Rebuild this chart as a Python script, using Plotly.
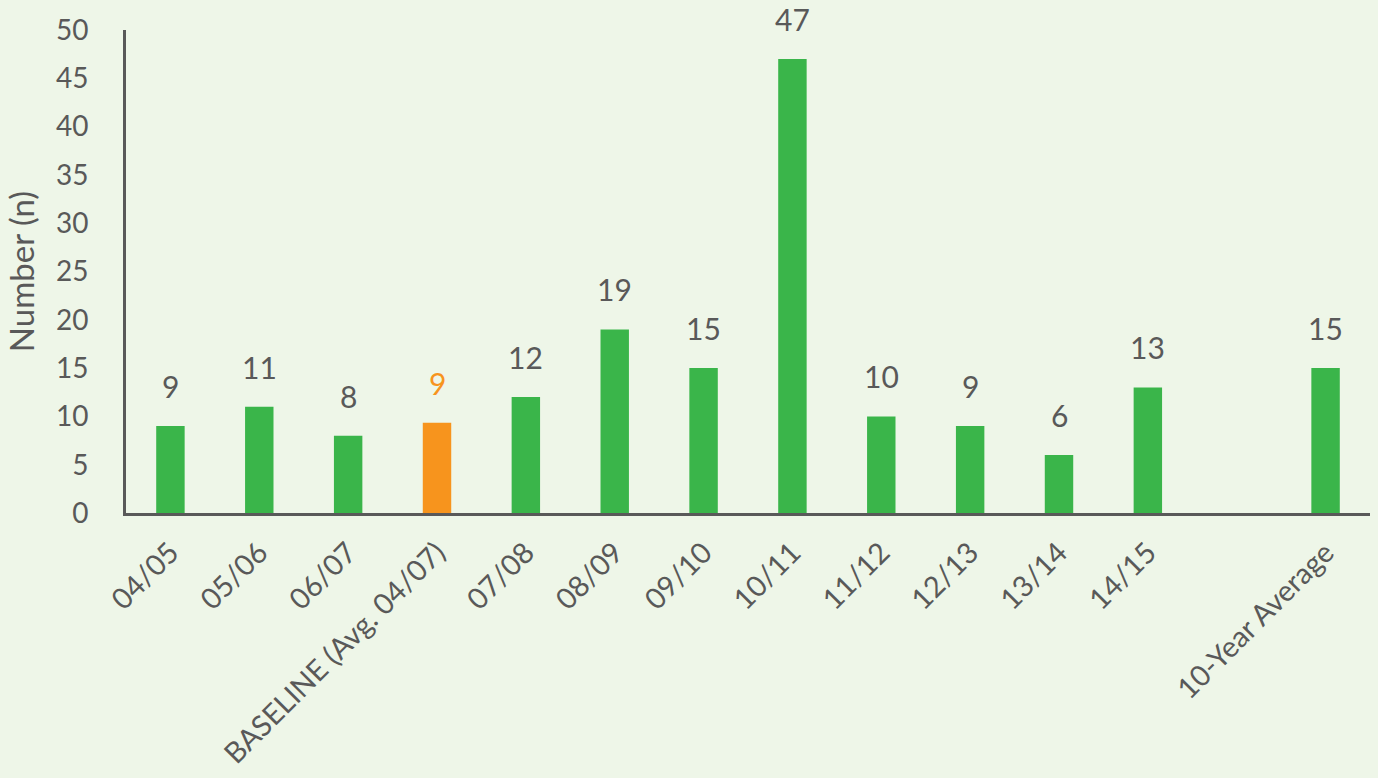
import plotly.graph_objects as go

categories = ["04/05", "05/06", "06/07", "BASELINE (Avg. 04/07)", "07/08", "08/09", "09/10",
              "10/11", "11/12", "12/13", "13/14", "14/15", " ", "10-Year Average"]
values = [9, 11, 8, 9.33, 12, 19, 15, 47, 10, 9, 6, 13, None, 15]
labels = ["9", "11", "8", "9", "12", "19", "15", "47", "10", "9", "6", "13", "", "15"]

GREEN = "#3AB54A"
ORANGE = "#F7941D"
GRAY = "#595959"
colors = [ORANGE if c.startswith("BASELINE") else GREEN for c in categories]
text_colors = [ORANGE if c.startswith("BASELINE") else GRAY for c in categories]

FONT = "Lato"

fig = go.Figure(go.Bar(
    x=categories, y=values,
    marker=dict(color=colors, line=dict(width=0)),
    hoverinfo="x+y",
))

for c, v, t, tc in zip(categories, values, labels, text_colors):
    if v is None or not t:
        continue
    fig.add_annotation(x=c, y=v, text=t, showarrow=False, yanchor="bottom",
                       yshift=20, font=dict(family=FONT, size=30, color=tc))

fig.update_layout(
    width=1378, height=778,
    paper_bgcolor="#EEF6E8", plot_bgcolor="#EEF6E8",
    margin=dict(l=126, r=8, t=30, b=261),
    bargap=0.68,
    showlegend=False,
    font=dict(family=FONT, color=GRAY),
    xaxis=dict(
        type="category", categoryorder="array", categoryarray=categories,
        tickangle=-45, tickfont=dict(family=FONT, size=29, color=GRAY),
        showline=True, linecolor=GRAY, linewidth=3, ticks="", showgrid=False,
        ticklabelstandoff=8,
    ),
    yaxis=dict(
        range=[0, 50], dtick=5, tickfont=dict(family=FONT, size=28, color=GRAY),
        showline=True, linecolor=GRAY, linewidth=3, ticks="", showgrid=False,
        zeroline=False, ticklabelstandoff=29,
        title=dict(text="Number (n)", font=dict(family=FONT, size=33, color=GRAY), standoff=12),
    ),
)

fig.write_html("out.html", config={"displayModeBar": False},
               post_script="document.body.style.margin='0';document.documentElement.style.background='#EEF6E8';")
